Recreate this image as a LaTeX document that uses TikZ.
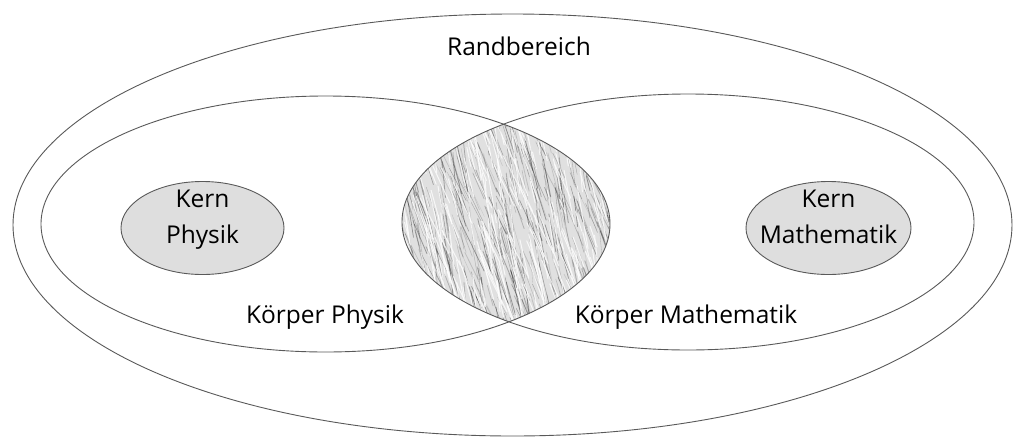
\documentclass[tikz,border=0pt]{standalone}
\usepackage{fontspec}
\setmainfont{Open Sans}
\usetikzlibrary{shapes.geometric}
\begin{document}
\begin{tikzpicture}[x=1pt,y=-1pt,
  outline/.style={ellipse, draw=black!65, line width=0.9pt, inner sep=0pt, outer sep=0pt},
  kern/.style={outline, fill=black!13},
  kerntext/.style={align=center, inner sep=0pt, font=\fontsize{24.5}{36}\selectfont},
  lbl/.style={font=\fontsize{24.5}{28}\selectfont, inner sep=0pt, anchor=base}]
\useasboundingbox (0,0) rectangle (1013,437);
% outer region
\node[outline, minimum width=999pt, minimum height=422pt] (rand) at (512.5,225) {};
% hatched intersection
\begin{scope}
  \clip (325.5,224) ellipse (284.5 and 128);
  \clip (688,222) ellipse (286 and 128);
  \fill[black!12] (380,90) rectangle (640,360);
  \pgfmathsetseed{7}
  \foreach \i in {1,...,700}{
    \pgfmathsetmacro{\xa}{370+260*rnd}
    \pgfmathsetmacro{\ya}{90+260*rnd}
    \pgfmathsetmacro{\ang}{62+24*rnd}
    \pgfmathsetmacro{\len}{15+50*rnd}
    \pgfmathsetmacro{\op}{0.10+0.28*rnd}
    \pgfmathsetmacro{\lw}{0.3+0.6*rnd}
    \draw[line width=\lw pt, black, opacity=\op, line cap=round] (\xa,\ya) -- ++({\len*cos(\ang)},{\len*sin(\ang)});
  }
  \foreach \i in {1,...,380}{
    \pgfmathsetmacro{\xa}{370+260*rnd}
    \pgfmathsetmacro{\ya}{90+260*rnd}
    \pgfmathsetmacro{\ang}{62+24*rnd}
    \pgfmathsetmacro{\len}{15+50*rnd}
    \draw[line width=1pt, white, opacity=0.75, line cap=round] (\xa,\ya) -- ++({\len*cos(\ang)},{\len*sin(\ang)});
  }
\end{scope}
% bodies
\node[outline, minimum width=569pt, minimum height=256pt] (kphys) at (325.5,224) {};
\node[outline, minimum width=572pt, minimum height=256pt] (kmath) at (688,222) {};
% cores
\node[kern, minimum width=163pt, minimum height=93pt] (cphys) at (202.5,228) {};
\node[kern, minimum width=165pt, minimum height=93pt] (cmath) at (828.5,228) {};
\node[kerntext, anchor=base] (tkp) at (202.5,243) {Kern\\Physik};
\node[kerntext, anchor=base] (tkm) at (828.5,243) {Kern\\Mathematik};
% labels
\node[lbl] (trand) at (519,55) {Randbereich};
\node[lbl] (tphys) at (325,323) {Körper Physik};
\node[lbl] (tmath) at (686,323) {Körper Mathematik};
\end{tikzpicture}
\end{document}
